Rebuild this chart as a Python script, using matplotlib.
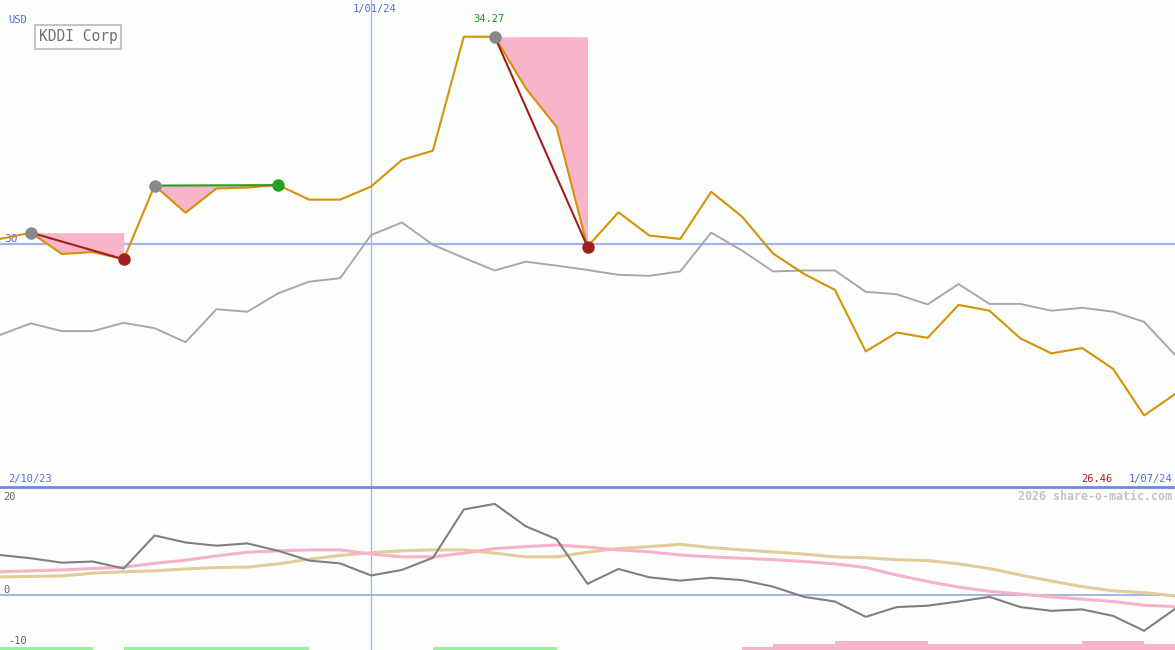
import numpy as np
import matplotlib
matplotlib.use('Agg')
import matplotlib.pyplot as plt
from matplotlib.lines import Line2D

W, H = 1175, 650

# ── Data (weekly, 2/10/23 .. 1/07/24) ──────────────────────────────────────
price = [30.10, 30.23, 29.79, 29.83, 29.68, 31.20, 30.64, 31.14, 31.16, 31.21,
         30.91, 30.91, 31.18, 31.73, 31.92, 34.27, 34.27, 33.21, 32.41, 29.94,
         30.65, 30.17, 30.10, 31.07, 30.56, 29.80, 29.38, 29.05, 27.78, 28.17,
         28.06, 28.74, 28.62, 28.05, 27.74, 27.85, 27.42, 26.46, 26.90]

# comparison index, rebased to price scale
index_rel = [28.12, 28.36, 28.20, 28.20, 28.37, 28.26, 27.97, 28.65, 28.60, 28.98,
             29.22, 29.29, 30.18, 30.44, 29.98, 29.71, 29.45, 29.63, 29.55, 29.46,
             29.36, 29.34, 29.43, 30.23, 29.86, 29.43, 29.45, 29.45, 29.01, 28.96,
             28.75, 29.17, 28.76, 28.76, 28.62, 28.68, 28.60, 28.39, 27.71]

momentum = [8.6, 7.9, 6.95, 7.2, 5.7, 12.8, 11.3, 10.6, 11.1, 9.5,
            7.4, 6.8, 4.2, 5.4, 8.0, 18.4, 19.6, 14.8, 12.0, 2.4,
            5.6, 3.8, 3.1, 3.7, 3.2, 1.8, -0.4, -1.4, -4.7, -2.6,
            -2.3, -1.4, -0.4, -2.6, -3.4, -3.1, -4.5, -7.7, -3.0]

ma_fast = [5.0, 5.2, 5.4, 5.7, 6.0, 6.8, 7.5, 8.4, 9.2, 9.5,
           9.7, 9.7, 8.8, 8.2, 8.2, 9.0, 10.0, 10.4, 10.75, 10.3,
           9.7, 9.3, 8.6, 8.2, 7.9, 7.6, 7.2, 6.7, 5.9, 4.3,
           2.9, 1.7, 0.8, 0.2, -0.4, -0.9, -1.4, -2.2, -2.5]

ma_slow = [3.9, 4.0, 4.1, 4.7, 5.0, 5.2, 5.6, 5.9, 6.0, 6.7,
           7.7, 8.5, 9.1, 9.5, 9.7, 9.7, 9.0, 8.2, 8.2, 9.2,
           10.0, 10.4, 10.9, 10.2, 9.7, 9.25, 8.8, 8.2, 8.0, 7.6,
           7.4, 6.7, 5.7, 4.3, 3.0, 1.8, 0.9, 0.5, -0.2]

# signal strip per weekly interval: +1 buy (green), -n sell strength (pink)
signal = [1, 1, 1, 0, 1, 1, 1, 1, 1, 1,
          0, 0, 0, 0, 1, 1, 1, 1, 0, 0,
          0, 0, 0, 0, -1, -2, -2, -3, -3, -3,
          -2, -2, -2, -2, -2, -3, -3, -2]

# (start idx, end idx, direction)
patterns = [(1, 4, 'down'), (5, 9, 'up'), (16, 19, 'down')]

ref_level = 30
year_idx = 12
start_lbl, year_lbl, end_lbl = '2/10/23', '1/01/24', '1/07/24'
name = 'KDDI Corp'

x = np.arange(len(price))

# ── Style ──────────────────────────────────────────────────────────────────
BG = '#fcfefc'
BLUE_TXT = '#5566ee'
GRID_BLUE = '#a4b2f2'
ORANGE = '#d69108'
PINK = '#f8b4c8'
MONO = 'DejaVu Sans Mono'

fig = plt.figure(figsize=(W / 100, H / 100), dpi=100, facecolor=BG)

ax = fig.add_axes([0, 163 / H, 1, 487 / H], facecolor=BG)
ax.set_xlim(0, len(price) - 1)
ax.set_ylim(24.985, 35.027)
ax.set_xticks([])
ax.set_yticks([])
for s in ax.spines.values():
    s.set_visible(False)

ax.axhline(ref_level, color=GRID_BLUE, lw=1.6, zorder=1)
ax.axvline(year_idx, color=GRID_BLUE, lw=0.9, zorder=1)

# pattern shading
for i0, i1, d in patterns:
    xs = x[i0:i1 + 1]
    ys = np.array(price[i0:i1 + 1])
    ax.fill_between(xs, ys, price[i0], where=ys <= price[i0] + 0.05,
                    color=PINK, lw=0, zorder=2)

ax.plot(x, index_rel, color='#a8a8a8', lw=1.4, zorder=3)
ax.plot(x, price, color=ORANGE, lw=1.5, zorder=4)

for i0, i1, d in patterns:
    c = '#a01e1e' if d == 'down' else '#22a022'
    ax.plot([i0, i1], [price[i0], price[i1]], color=c, lw=1.5, zorder=5)
    ax.plot(i0, price[i0], 'o', ms=9, color='#888888', mec='none', zorder=6)
    ax.plot(i1, price[i1], 'o', ms=9, color=c, mec='none', zorder=6)

ax.text(0.15, ref_level, str(ref_level), color=BLUE_TXT, fontsize=8,
        family=MONO, va='bottom', ha='left', zorder=2)

imax = len(price) - 1 - int(np.argmax(price[::-1]))
ax.annotate(f'{max(price):.2f}', (imax, max(price)), xytext=(-4, 9),
            textcoords='offset points', ha='center', va='bottom',
            color='#229922', fontsize=7.5, family=MONO)

fig.text(8 / W, 1 - 20 / H, 'USD', color=BLUE_TXT, fontsize=7.5, family=MONO,
         va='center', ha='left')
fig.text(78 / W, 1 - 37 / H, name, color='#707070', fontsize=10.5, family=MONO,
         va='center', ha='center',
         bbox=dict(boxstyle='square,pad=0.28', fc='white', ec='#c4c4c4', lw=1.5))
fig.text(375 / W, 1 - 9 / H, year_lbl, color=BLUE_TXT, fontsize=7.5, family=MONO,
         va='center', ha='center')
fig.text(8 / W, 1 - 479 / H, start_lbl, color=BLUE_TXT, fontsize=7.5, family=MONO,
         va='center', ha='left')
fig.text(1113 / W, 1 - 479 / H, f'{min(price):.2f}', color='#a01e1e', fontsize=7.5,
         family=MONO, va='center', ha='right')
fig.text(1172 / W, 1 - 479 / H, end_lbl, color=BLUE_TXT, fontsize=7.5, family=MONO,
         va='center', ha='right')

# separator between panels
fig.add_artist(Line2D([0, 1], [1 - 487 / H, 1 - 487 / H], color='#7484ea',
                      lw=2.0, transform=fig.transFigure, zorder=10))

# ── Lower panel ────────────────────────────────────────────────────────────
bx = fig.add_axes([0, 0, 1, 163 / H], facecolor=BG)
bx.set_xlim(0, len(price) - 1)
ylo, yhi = -11.83, 23.23
bx.set_ylim(ylo, yhi)
bx.set_xticks([])
bx.set_yticks([])
for s in bx.spines.values():
    s.set_visible(False)

bx.axhline(0, color=GRID_BLUE, lw=1.4, zorder=1)
bx.axvline(year_idx, color=GRID_BLUE, lw=0.9, zorder=1)

bx.plot(x, ma_slow, color='#e2cc9a', lw=2.2, zorder=2)
bx.plot(x, ma_fast, color='#f8b2c8', lw=2.2, zorder=3)
bx.plot(x, momentum, color='#808080', lw=1.5, zorder=4)

unit = 0.65
for i, s in enumerate(signal):
    if s == 0:
        continue
    c = '#98f298' if s > 0 else PINK
    bx.bar(i, abs(s) * unit, width=1, bottom=ylo, align='edge', color=c,
           lw=0, zorder=2)

for v in (20, 0, -10):
    bx.text(0.1 if v >= 0 else 0.25, v, str(v), color='#606060', fontsize=7.5,
            family=MONO, va='bottom' if v >= 0 else 'center', ha='left')

fig.text(1172 / W, 1 - 496 / H, '2026 share-o-matic.com', color='#c4c4c4',
         fontsize=8.4, family=MONO, fontweight='bold', va='center', ha='right')

fig.savefig('out.png', dpi=100, facecolor=BG)
